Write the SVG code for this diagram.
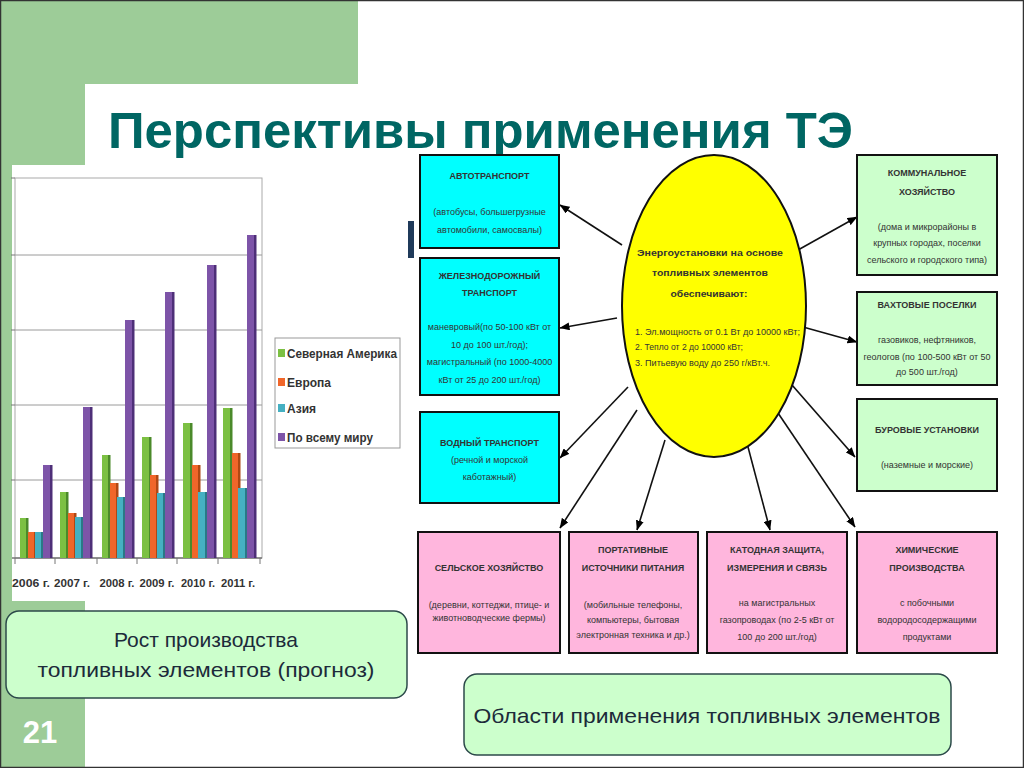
<svg xmlns="http://www.w3.org/2000/svg" width="1024" height="768" viewBox="0 0 1024 768">
<defs>
<marker id="ah" viewBox="0 0 10 8" refX="9.5" refY="4" markerWidth="10" markerHeight="8" markerUnits="userSpaceOnUse" orient="auto">
<path d="M0,0 L10,4 L0,8 Z" fill="#000"/>
</marker>
</defs>
<style>
.bg{fill:#9dcc98}
.txt{font-family:"Liberation Sans",Arial,sans-serif;fill:#333;font-size:9px;text-anchor:middle}
.b{font-weight:bold}
.cy{fill:#00ffff;stroke:#111;stroke-width:2}
.gr{fill:#ccffcc;stroke:#111;stroke-width:2}
.pk{fill:#ffb6dd;stroke:#111;stroke-width:2}
.conn path{stroke:#111;stroke-width:1.6;fill:none;marker-end:url(#ah)}
.grid{stroke:#9a9a9a;stroke-width:1}
.g{fill:#7cc043}.gs{fill:#4b8a2a}
.o{fill:#f0662a}.os{fill:#b04814}
.t{fill:#45b0c2}.ts{fill:#2a7886}
.p{fill:#7d54a8}.ps{fill:#4e2f78}
.lbl{font-family:"Liberation Sans",Arial,sans-serif;fill:#1c2a3a;font-size:21px;text-anchor:middle}
.leg{font-family:"Liberation Sans",Arial,sans-serif;fill:#333;font-size:12px;font-weight:bold}
.yr{font-family:"Liberation Sans",Arial,sans-serif;fill:#333;font-size:11px;font-weight:bold;text-anchor:middle}
</style>
<rect x="0" y="0" width="1024" height="768" fill="#fff"/>
<rect class="bg" x="0" y="0" width="358" height="84"/>
<rect class="bg" x="0" y="0" width="85" height="768"/>
<rect x="85" y="84" width="960" height="700" rx="22" fill="#fff"/>
<text x="108" y="148" font-family="Liberation Sans,Arial,sans-serif" font-weight="bold" font-size="50" fill="#006663" textLength="745" lengthAdjust="spacingAndGlyphs">Перспективы применения ТЭ</text>
<text x="40" y="743" font-family="Liberation Sans,Arial,sans-serif" font-weight="bold" font-size="31" fill="#fff" text-anchor="middle">21</text>
<rect x="408" y="221" width="6" height="37" fill="#1f3a5a"/>

<g id="chart">
<rect x="12" y="165" width="258" height="436" fill="#fff"/>
<rect x="15" y="178" width="247" height="380" fill="none" stroke="#aaa"/>
<line class="grid" x1="15" y1="255" x2="262" y2="255"/>
<line class="grid" x1="15" y1="330" x2="262" y2="330"/>
<line class="grid" x1="15" y1="405" x2="262" y2="405"/>
<line class="grid" x1="15" y1="480" x2="262" y2="480"/>
<line x1="12" y1="558" x2="262" y2="558" stroke="#777" stroke-width="1.5"/>
<path d="M15,558v6M55,558v6M97,558v6M137,558v6M177,558v6M218,558v6M260,558v6M11,178h4M11,255h4M11,330h4M11,405h4M11,480h4" stroke="#777"/>
<rect class="g" x="20" y="518" width="8" height="40"/><rect class="gs" x="26" y="518" width="2.5" height="40"/>
<rect class="o" x="28" y="532" width="8" height="26"/><rect class="os" x="34" y="532" width="2.5" height="26"/>
<rect class="t" x="35" y="532" width="8" height="26"/><rect class="ts" x="41" y="532" width="2.5" height="26"/>
<rect class="p" x="43" y="465" width="9" height="93"/><rect class="ps" x="50" y="465" width="2.5" height="93"/>
<rect class="g" x="60" y="492" width="8" height="66"/><rect class="gs" x="66" y="492" width="2.5" height="66"/>
<rect class="o" x="68" y="513" width="8" height="45"/><rect class="os" x="74" y="513" width="2.5" height="45"/>
<rect class="t" x="75" y="517" width="8" height="41"/><rect class="ts" x="81" y="517" width="2.5" height="41"/>
<rect class="p" x="83" y="407" width="9" height="151"/><rect class="ps" x="90" y="407" width="2.5" height="151"/>
<rect class="g" x="102" y="455" width="8" height="103"/><rect class="gs" x="108" y="455" width="2.5" height="103"/>
<rect class="o" x="110" y="483" width="8" height="75"/><rect class="os" x="116" y="483" width="2.5" height="75"/>
<rect class="t" x="117" y="497" width="8" height="61"/><rect class="ts" x="123" y="497" width="2.5" height="61"/>
<rect class="p" x="125" y="320" width="9" height="238"/><rect class="ps" x="132" y="320" width="2.5" height="238"/>
<rect class="g" x="142" y="437" width="9" height="121"/><rect class="gs" x="149" y="437" width="2.5" height="121"/>
<rect class="o" x="150" y="475" width="8" height="83"/><rect class="os" x="156" y="475" width="2.5" height="83"/>
<rect class="t" x="157" y="493" width="8" height="65"/><rect class="ts" x="163" y="493" width="2.5" height="65"/>
<rect class="p" x="165" y="292" width="9" height="266"/><rect class="ps" x="172" y="292" width="2.5" height="266"/>
<rect class="g" x="183" y="423" width="9" height="135"/><rect class="gs" x="190" y="423" width="2.5" height="135"/>
<rect class="o" x="192" y="465" width="8" height="93"/><rect class="os" x="198" y="465" width="2.5" height="93"/>
<rect class="t" x="198" y="492" width="9" height="66"/><rect class="ts" x="205" y="492" width="2.5" height="66"/>
<rect class="p" x="207" y="265" width="9" height="293"/><rect class="ps" x="214" y="265" width="2.5" height="293"/>
<rect class="g" x="223" y="408" width="9" height="150"/><rect class="gs" x="230" y="408" width="2.5" height="150"/>
<rect class="o" x="232" y="453" width="8" height="105"/><rect class="os" x="238" y="453" width="2.5" height="105"/>
<rect class="t" x="238" y="488" width="9" height="70"/><rect class="ts" x="245" y="488" width="2.5" height="70"/>
<rect class="p" x="247" y="235" width="9" height="323"/><rect class="ps" x="254" y="235" width="2.5" height="323"/>
<text class="yr" x="31" y="587" textLength="38" lengthAdjust="spacingAndGlyphs">2006 г.</text>
<text class="yr" x="72" y="587" textLength="36" lengthAdjust="spacingAndGlyphs">2007 г.</text>
<text class="yr" x="117" y="587" textLength="35" lengthAdjust="spacingAndGlyphs">2008 г.</text>
<text class="yr" x="157" y="587" textLength="35" lengthAdjust="spacingAndGlyphs">2009 г.</text>
<text class="yr" x="198" y="587" textLength="34" lengthAdjust="spacingAndGlyphs">2010 г.</text>
<text class="yr" x="238" y="587" textLength="34" lengthAdjust="spacingAndGlyphs">2011 г.</text>
</g>

<g id="legend">
<rect x="275" y="338" width="125" height="110" fill="#fff" stroke="#999"/>
<rect class="g" x="278" y="349" width="7" height="8"/>
<rect class="o" x="278" y="378" width="7" height="8"/>
<rect class="t" x="278" y="404" width="7" height="8"/>
<rect class="p" x="278" y="433" width="7" height="8"/>
<text class="leg" x="287" y="358" textLength="110" lengthAdjust="spacingAndGlyphs">Северная Америка</text>
<text class="leg" x="287" y="387">Европа</text>
<text class="leg" x="287" y="413">Азия</text>
<text class="leg" x="287" y="442" textLength="86" lengthAdjust="spacingAndGlyphs">По всему миру</text>
</g>

<g id="label-growth">
<rect x="6" y="611" width="401" height="87" rx="13" fill="#ccffcc" stroke="#2c4a4a" stroke-width="1.5"/>
<text class="lbl" x="206" y="647">Рост производства</text>
<text class="lbl" x="206" y="677" textLength="337" lengthAdjust="spacingAndGlyphs">топливных элементов (прогноз)</text>
</g>

<g id="label-areas">
<rect x="464" y="674" width="487" height="81" rx="13" fill="#ccffcc" stroke="#2c4a4a" stroke-width="1.5"/>
<text class="lbl" x="707" y="723" textLength="467" lengthAdjust="spacingAndGlyphs">Области применения топливных элементов</text>
</g>

<g class="conn" id="connectors">
<path d="M622,245 L560,205"/>
<path d="M617,318 L560,328"/>
<path d="M628,387 L560,458"/>
<path d="M637,410 L560,528"/>
<path d="M665,440 L637,530"/>
<path d="M748,447 L770,530"/>
<path d="M778,413 L855,527"/>
<path d="M798,250 L857,217"/>
<path d="M803,327 L857,342"/>
<path d="M792,385 L855,457"/>
</g>

<g id="center">
<ellipse cx="714" cy="306" rx="92" ry="151" fill="#ffff00" stroke="#111" stroke-width="2"/>
<text class="txt b" x="710" y="256" font-size="10.5" textLength="146" lengthAdjust="spacingAndGlyphs">Энергоустановки на основе</text>
<text class="txt b" x="710" y="276" font-size="10.5" textLength="116" lengthAdjust="spacingAndGlyphs">топливных элементов</text>
<text class="txt b" x="709" y="297" font-size="10.5" textLength="77" lengthAdjust="spacingAndGlyphs">обеспечивают:</text>
<text class="txt" x="635" y="335" style="text-anchor:start" textLength="165" lengthAdjust="spacingAndGlyphs">1. Эл.мощность от 0.1 Вт до 10000 кВт;</text>
<text class="txt" x="635" y="350" style="text-anchor:start" textLength="108" lengthAdjust="spacingAndGlyphs">2. Тепло от 2 до 10000 кВт;</text>
<text class="txt" x="635" y="366" style="text-anchor:start" textLength="135" lengthAdjust="spacingAndGlyphs">3. Питьевую воду до 250 г/кВт.ч.</text>
</g>

<g id="auto">
<rect class="cy" x="420" y="155" width="139" height="93"/>
<text class="txt b" x="489.5" y="179">АВТОТРАНСПОРТ</text>
<text class="txt" x="489.5" y="215">(автобусы, большегрузные</text>
<text class="txt" x="489.5" y="233">автомобили, самосвалы)</text>
</g>
<g id="rail">
<rect class="cy" x="420" y="258" width="139" height="137"/>
<text class="txt b" x="489.5" y="279">ЖЕЛЕЗНОДОРОЖНЫЙ</text>
<text class="txt b" x="489.5" y="296">ТРАНСПОРТ</text>
<text class="txt" x="489.5" y="330">маневровый(по 50-100 кВт от</text>
<text class="txt" x="489.5" y="348">10 до 100 шт./год);</text>
<text class="txt" x="489.5" y="365">магистральный (по 1000-4000</text>
<text class="txt" x="489.5" y="383">кВт от 25 до 200 шт./год)</text>
</g>
<g id="water">
<rect class="cy" x="420" y="412" width="139" height="91"/>
<text class="txt b" x="489.5" y="446">ВОДНЫЙ ТРАНСПОРТ</text>
<text class="txt" x="489.5" y="463">(речной и морской</text>
<text class="txt" x="489.5" y="480">каботажный)</text>
</g>

<g id="communal">
<rect class="gr" x="857" y="155" width="140" height="120"/>
<text class="txt b" x="927" y="176">КОММУНАЛЬНОЕ</text>
<text class="txt b" x="927" y="195">ХОЗЯЙСТВО</text>
<text class="txt" x="927" y="230">(дома и микрорайоны в</text>
<text class="txt" x="927" y="246">крупных городах, поселки</text>
<text class="txt" x="927" y="263">сельского и городского типа)</text>
</g>
<g id="shift">
<rect class="gr" x="857" y="292" width="140" height="93"/>
<text class="txt b" x="927" y="308">ВАХТОВЫЕ ПОСЕЛКИ</text>
<text class="txt" x="927" y="343">газовиков, нефтяников,</text>
<text class="txt" x="927" y="360">геологов (по 100-500 кВт от 50</text>
<text class="txt" x="927" y="375">до 500 шт./год)</text>
</g>
<g id="drilling">
<rect class="gr" x="857" y="399" width="140" height="92"/>
<text class="txt b" x="927" y="433">БУРОВЫЕ УСТАНОВКИ</text>
<text class="txt" x="927" y="468">(наземные и морские)</text>
</g>

<g id="agri">
<rect class="pk" x="418" y="532" width="142" height="121"/>
<text class="txt b" x="489" y="571">СЕЛЬСКОЕ ХОЗЯЙСТВО</text>
<text class="txt" x="489" y="608">(деревни, коттеджи, птице- и</text>
<text class="txt" x="489" y="621">животноводческие фермы)</text>
</g>
<g id="portable">
<rect class="pk" x="569" y="532" width="129" height="121"/>
<text class="txt b" x="633" y="553">ПОРТАТИВНЫЕ</text>
<text class="txt b" x="633" y="571">ИСТОЧНИКИ ПИТАНИЯ</text>
<text class="txt" x="633" y="608">(мобильные телефоны,</text>
<text class="txt" x="633" y="623">компьютеры, бытовая</text>
<text class="txt" x="633" y="638">электронная техника и др.)</text>
</g>
<g id="cathode">
<rect class="pk" x="707" y="532" width="140" height="121"/>
<text class="txt b" x="777" y="553">КАТОДНАЯ ЗАЩИТА,</text>
<text class="txt b" x="777" y="571">ИЗМЕРЕНИЯ И СВЯЗЬ</text>
<text class="txt" x="777" y="606">на магистральных</text>
<text class="txt" x="777" y="623">газопроводах (по 2-5 кВт от</text>
<text class="txt" x="777" y="640">100 до 200 шт./год)</text>
</g>
<g id="chemical">
<rect class="pk" x="857" y="532" width="140" height="121"/>
<text class="txt b" x="927" y="553">ХИМИЧЕСКИЕ</text>
<text class="txt b" x="927" y="571">ПРОИЗВОДСТВА</text>
<text class="txt" x="927" y="606">с побочными</text>
<text class="txt" x="927" y="623">водородосодержащими</text>
<text class="txt" x="927" y="640">продуктами</text>
</g>
<rect x="0.5" y="0.5" width="1023" height="767" fill="none" stroke="#333" stroke-width="1.5"/>
</svg>
